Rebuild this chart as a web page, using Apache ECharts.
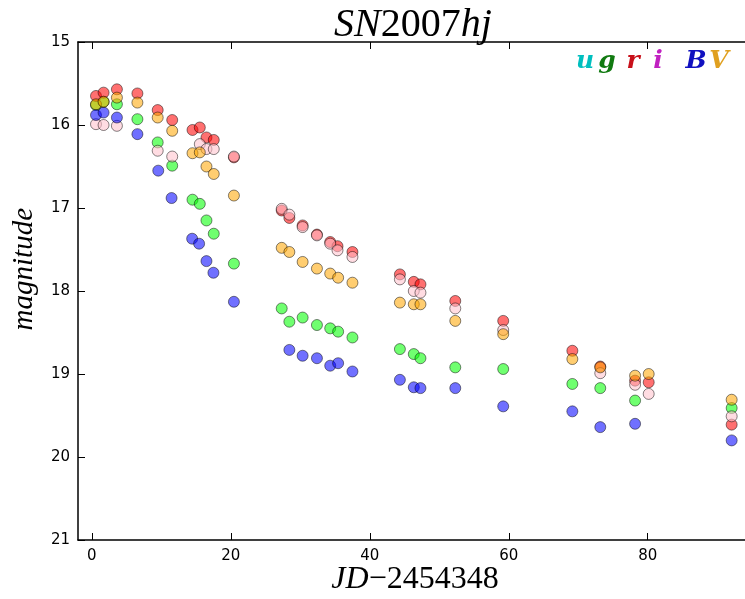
<!DOCTYPE html>
<html>
<head>
<meta charset="utf-8">
<script src="https://cdn.jsdelivr.net/npm/echarts@6/dist/echarts.min.js"></script>
<style>html,body{margin:0;padding:0;background:#fff}#c{width:745px;height:599px}</style>
</head>
<body>
<div id="c"></div>
<script>
// ---- data (days since JD 2454348, magnitudes) ----
const gDays = [0.59,1.68,3.6,6.55,9.47,11.56,14.48,15.53,16.49,17.54,20.44,27.32,28.42,30.33,32.39,34.3,35.44,37.5,44.33,46.33,47.29,52.3,59.2,69.15,73.17,78.18,92.08];
const gMag  = [15.76,15.72,15.75,15.93,16.21,16.49,16.90,16.95,17.15,17.31,17.67,18.21,18.37,18.32,18.41,18.45,18.49,18.56,18.70,18.76,18.81,18.92,18.94,19.12,19.17,19.32,19.41];

const rDays = [0.59,1.68,3.6,6.55,9.47,11.56,14.48,15.53,16.49,17.54,20.44,27.32,28.42,30.33,32.39,34.3,35.35,37.5,44.33,46.33,47.29,52.3,59.2,69.15,73.17,78.18,80.14,92.08];
const rMag  = [15.65,15.61,15.57,15.62,15.82,15.94,16.06,16.03,16.15,16.18,16.39,17.03,17.12,17.21,17.32,17.41,17.46,17.53,17.80,17.89,17.92,18.12,18.36,18.72,18.91,19.08,19.10,19.61];

const iDays = [0.59,1.68,3.6,9.47,11.56,15.53,16.49,17.54,20.44,27.32,28.42,30.33,32.39,34.3,35.35,37.5,44.33,46.33,47.29,52.3,59.2,73.17,78.18,80.14,92.08];
const iMag  = [15.99,16.0,16.01,16.31,16.38,16.23,16.29,16.29,16.38,17.01,17.08,17.23,17.33,17.43,17.51,17.59,17.86,18.0,18.02,18.21,18.47,18.99,19.13,19.24,19.51];

const BDays = [0.59,1.68,3.6,6.55,9.55,11.47,14.43,15.43,16.49,17.49,20.44,28.42,30.33,32.39,34.3,35.44,37.5,44.33,46.33,47.29,52.3,59.2,69.15,73.17,78.18,92.08];
const BMag  = [15.88,15.85,15.91,16.11,16.55,16.88,17.37,17.43,17.64,17.78,18.13,18.71,18.78,18.81,18.90,18.87,18.97,19.07,19.16,19.17,19.17,19.39,19.45,19.64,19.60,19.80];

const VDays = [0.59,1.68,3.6,6.55,9.47,11.56,14.48,15.53,16.49,17.54,20.44,27.32,28.42,30.33,32.39,34.3,35.44,37.5,44.33,46.33,47.29,52.3,59.2,69.15,73.17,78.18,80.14,92.08];
const VMag  = [15.75,15.72,15.67,15.73,15.91,16.07,16.34,16.33,16.50,16.59,16.85,17.48,17.53,17.65,17.73,17.79,17.84,17.90,18.14,18.16,18.16,18.36,18.52,18.82,18.92,19.02,19.00,19.31];

const xTicks = [0,20,40,60,80];
const legendLetters = ['u','g','r','i','B','V'];

function pairs(xs, ys){ return xs.map((x,k)=>[x, ys[k]]); }

const bands = [
  {name:'g', days:gDays, mag:gMag, color:'rgba(0,255,0,0.7)'},
  {name:'r', days:rDays, mag:rMag, color:'rgba(255,0,0,0.7)'},
  {name:'i', days:iDays, mag:iMag, color:'rgba(255,192,203,0.7)'},
  {name:'B', days:BDays, mag:BMag, color:'rgba(0,0,255,0.7)'},
  {name:'V', days:VDays, mag:VMag, color:'rgba(255,165,0,0.7)'}
];

const chart = echarts.init(document.getElementById('c'), null, {renderer:'canvas'});

const legendColors = ['#00bfbf','#117a11','#c8101a','#c020c0','#1010c0','#e0a020'];
const legendX = [585,607,633,658,696,719];
const legendGraphics = legendLetters.map((t,k)=>({
  type:'text', x: legendX[k], y: 61,
  style:{text:t, fill:legendColors[k], font:'italic bold 25px "DejaVu Serif"', align:'center', verticalAlign:'middle'}
}));

const axisCommon = {
  axisLine:{show:true, onZero:false, lineStyle:{color:'#000', width:1.5}},
  splitLine:{show:false}
};

const option = {
  animation:false,
  backgroundColor:'#fff',
  grid:{left:78, top:42, width:672, height:498, show:false},
  xAxis:[Object.assign({
    type:'value', min:-2, max:94, position:'bottom',
    axisTick:{show:true, inside:true, length:7, customValues:xTicks, lineStyle:{color:'#000'}},
    axisLabel:{show:true, customValues:xTicks, color:'#000', fontSize:15, fontFamily:'DejaVu Sans', margin:9}
  }, axisCommon),Object.assign({
    type:'value', min:-2, max:94, position:'top',
    axisTick:{show:true, inside:true, length:7, customValues:xTicks, lineStyle:{color:'#000'}},
    axisLabel:{show:false}
  }, axisCommon)],
  yAxis:[Object.assign({
    type:'value', min:15, max:21, interval:1, inverse:true, position:'left',
    axisTick:{show:true, inside:true, length:7, lineStyle:{color:'#000'}},
    axisLabel:{show:true, color:'#000', fontSize:15, fontFamily:'DejaVu Sans', margin:8}
  }, axisCommon)],
  series: bands.map(b=>({
    type:'scatter', name:b.name, xAxisIndex:0, yAxisIndex:0,
    data: pairs(b.days, b.mag),
    symbol:'circle', symbolSize:11,
    itemStyle:{color:b.color, borderColor:'rgba(0,0,0,0.6)', borderWidth:1}
  })),
  graphic:[
    {type:'text', x:413, y:25, z:10, style:{
      text:'{i|SN}{n|2007}{i|hj}', align:'center', verticalAlign:'middle',
      rich:{
        i:{font:'italic 40px "Liberation Serif"', fill:'#000'},
        n:{font:'40px "Liberation Serif"', fill:'#000'}
      }}},
    {type:'text', x:415, y:580, style:{
      text:'{i|JD}{n|−2454348}', align:'center', verticalAlign:'middle',
      rich:{
        i:{font:'italic 32px "Liberation Serif"', fill:'#000'},
        n:{font:'32px "Liberation Serif"', fill:'#000'}
      }}},
    {type:'text', x:10, y:208, rotation:Math.PI/2, style:{
      text:'magnitude', font:'italic 29px "Liberation Serif"', fill:'#000', align:'right'}}
  ].concat(legendGraphics)
};
chart.setOption(option);
</script>
</body>
</html>
